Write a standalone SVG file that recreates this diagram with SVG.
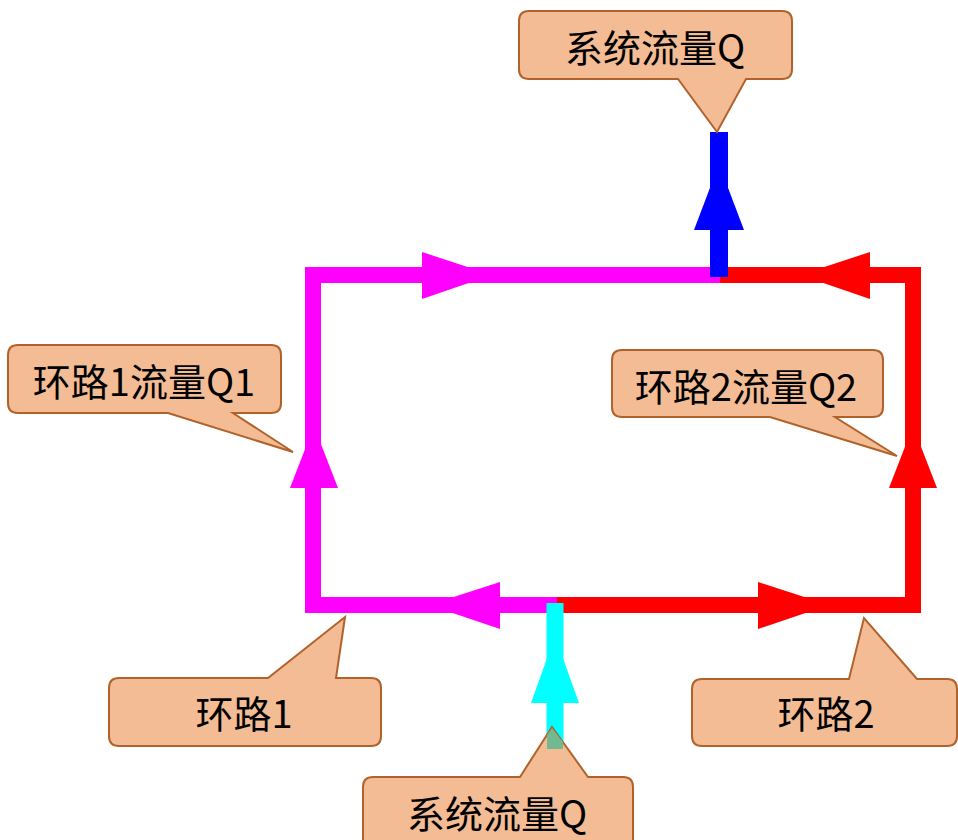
<svg xmlns="http://www.w3.org/2000/svg" width="958" height="840" viewBox="0 0 958 840">
<style>
.callout{fill:#f4bc94;stroke:#b0622a;stroke-width:2;stroke-linejoin:miter}
.lbl{font-family:"Microsoft YaHei","Noto Sans CJK SC","Noto Sans",sans-serif;font-size:38px;fill:#000;text-anchor:middle}
.pipe{fill:none;stroke-width:16;stroke-linejoin:miter;stroke-linecap:butt}
</style>
<rect width="958" height="840" fill="#fff"/>
<g id="connectors">
  <path class="pipe" stroke="#ff00ff" d="M720,275 H313 V605 H557"/>
  <path class="pipe" stroke="#ff0000" d="M720,275 H913 V605 H557"/>
  <line x1="719" y1="132" x2="719" y2="277" stroke="#0000ff" stroke-width="18"/>
  <line x1="555" y1="603" x2="555" y2="749" stroke="#00ffff" stroke-width="17"/>
  <polygon fill="#ff00ff" points="492,275 422,252 422,299"/>
  <polygon fill="#ff0000" points="800,275 870,252 870,299"/>
  <polygon fill="#ff00ff" points="314,426 290,488 338,488"/>
  <polygon fill="#ff0000" points="913,426 889,488 937,488"/>
  <polygon fill="#ff00ff" points="429,605 500,582 500,629"/>
  <polygon fill="#ff0000" points="829,605 758,582 758,629"/>
  <polygon fill="#0000ff" points="719,164 694,230 744,230"/>
  <polygon fill="#00ffff" points="555,636 531,703 579,703"/>
</g>
<g id="callout-top">
  <path class="callout" d="M529,11 H782 Q792,11 792,21 V69 Q792,79 782,79 H746 L717,132 L678,79 H529 Q519,79 519,69 V21 Q519,11 529,11 Z"/>
  <text class="lbl" x="655" y="62">系统流量Q</text>
</g>
<g id="callout-q1">
  <path class="callout" d="M18,345 H271 Q281,345 281,355 V403 Q281,413 271,413 H233 L293,452 L168,413 H18 Q8,413 8,403 V355 Q8,345 18,345 Z"/>
  <text class="lbl" x="144" y="396">环路1流量Q1</text>
</g>
<g id="callout-q2">
  <path class="callout" d="M622,350 H873 Q883,350 883,360 V407 Q883,417 873,417 H835 L897,456 L770,417 H622 Q612,417 612,407 V360 Q612,350 622,350 Z"/>
  <text class="lbl" x="746" y="401">环路2流量Q2</text>
</g>
<g id="callout-loop1">
  <path class="callout" d="M119,678 H268 L345,617 L336,678 H371 Q381,678 381,688 V736 Q381,746 371,746 H119 Q109,746 109,736 V688 Q109,678 119,678 Z"/>
  <text class="lbl" x="244" y="728">环路1</text>
</g>
<g id="callout-loop2">
  <path class="callout" d="M702,679 H849 L864,618 L917,679 H947 Q957,679 957,689 V736 Q957,746 947,746 H702 Q692,746 692,736 V689 Q692,679 702,679 Z"/>
  <text class="lbl" x="826" y="728">环路2</text>
</g>
<g id="callout-bottom">
  <path class="callout" d="M373,777 H520 L552,727 L588,777 H623 Q633,777 633,787 V850 H363 V787 Q363,777 373,777 Z"/>
  <polygon fill="#72b890" points="552,728 547,735 547,749 563,749 563,742"/>
  <text class="lbl" x="497" y="828">系统流量Q</text>
</g>
</svg>
